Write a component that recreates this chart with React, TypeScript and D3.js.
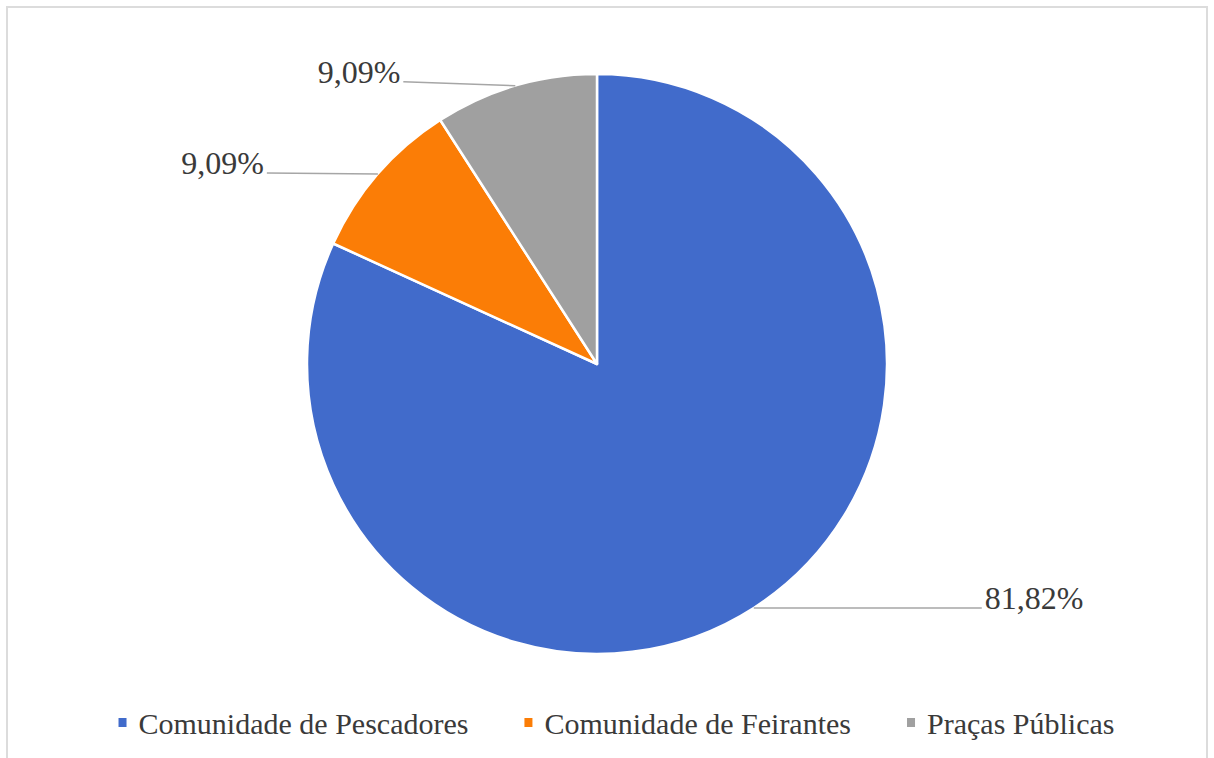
import React, { useMemo } from "react";
import * as d3 from "d3";

const categories = ["Comunidade de Pescadores", "Comunidade de Feirantes", "Praças Públicas"];
const values = [81.82, 9.09, 9.09];
const valueLabels = ["81,82%", "9,09%", "9,09%"];
const colors = ["#416BCB", "#FB7D06", "#A0A0A0"];

const W = 1214;
const H = 758;
const CX = 597;
const CY = 364;
const R = 290;
const FONT = "Liberation Serif, Times New Roman, DejaVu Serif, serif";

// leader line lengths / vertical offsets (layout)
const leaderLen = [228, 111, 112];
const leaderDy = [0, -1, -4];

function measure(text: string, size: number): number {
  const c = document.createElement("canvas").getContext("2d");
  if (!c) return text.length * size * 0.45;
  c.font = `${size}px 'Liberation Serif'`;
  return c.measureText(text).width;
}

export default function App() {
  const pie = d3.pie<number>().sort(null).value((d) => d)(values);
  const arc = d3.arc<d3.PieArcDatum<number>>().innerRadius(0).outerRadius(R);

  const legendSize = 30;
  const sq = 8;
  const sqGap = 12;
  const itemGap = 56;
  const legend = useMemo(() => {
    const widths = categories.map((c) => measure(c, legendSize));
    const total = widths.reduce((a, w) => a + sq + sqGap + w, 0) + itemGap * (categories.length - 1);
    let x = 616.5 - total / 2;
    return categories.map((c, i) => {
      const item = { x, w: widths[i], label: c, color: colors[i] };
      x += sq + sqGap + widths[i] + itemGap;
      return item;
    });
  }, []);

  const textStyle = { fontFamily: FONT };

  return (
    <svg
      width={W}
      height={H}
      style={{ position: "absolute", left: 0, top: 0, background: "#fff" }}
    >
      <rect x={7} y={7} width={1200} height={800} fill="#fff" stroke="#dcdcdc" strokeWidth={2} />
      <g transform={`translate(${CX},${CY})`}>
        {pie.map((p, i) => (
          <path key={i} d={arc(p) || ""} fill={colors[i]} stroke="#fff" strokeWidth={2.5} strokeLinejoin="round" />
        ))}
        {pie.map((p, i) => {
          const mid = (p.startAngle + p.endAngle) / 2;
          const x0 = R * Math.sin(mid);
          const y0 = -R * Math.cos(mid);
          const side = x0 >= 0 ? 1 : -1;
          const x1 = x0 + side * leaderLen[i];
          const y1 = y0 + leaderDy[i];
          return (
            <g key={"l" + i}>
              <line x1={x0} y1={y0} x2={x1} y2={y1} stroke="#a6a6a6" strokeWidth={1.5} />
              <text
                x={x1 + side * 3}
                y={y1 + 1}
                textAnchor={side > 0 ? "start" : "end"}
                fontSize={32}
                fill="#3a3a3a"
                style={textStyle}
              >
                {valueLabels[i]}
              </text>
            </g>
          );
        })}
      </g>
      {legend.map((it, i) => (
        <g key={"lg" + i}>
          <rect x={it.x} y={718} width={sq} height={sq + 1} fill={it.color} />
          <text x={it.x + sq + sqGap} y={734} fontSize={legendSize} fill="#3a3a3a" style={textStyle}>
            {it.label}
          </text>
        </g>
      ))}
    </svg>
  );
}
